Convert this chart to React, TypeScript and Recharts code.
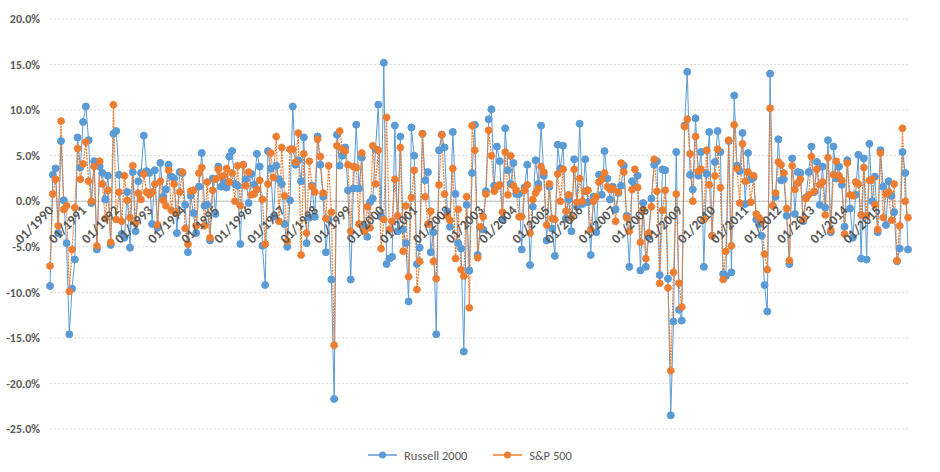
import React from 'react';
import { LineChart, Line, XAxis, YAxis, CartesianGrid, ReferenceLine, Legend } from 'recharts';

// Monthly log returns (%), Jan 1990 – Dec 2015
const years = [
  1990, 1991, 1992, 1993, 1994, 1995, 1996, 1997, 1998, 1999, 2000, 2001, 2002,
  2003, 2004, 2005, 2006, 2007, 2008, 2009, 2010, 2011, 2012, 2013, 2014, 2015,
];
const monthNames = ['01', '02', '03', '04', '05', '06', '07', '08', '09', '10', '11', '12'];

const russell2000 = [
  -9.3, 2.9, 3.6, -3.5, 6.6, 0.1, -4.6, -14.6, -9.6, -6.4, 7.0, 3.7,
  8.7, 10.4, 6.7, -0.2, 4.4, -5.3, 3.8, 3.1, 0.2, 2.8, -4.8, 7.4,
  7.7, 2.9, -3.6, -4.0, 1.0, -5.1, 3.2, -3.3, 2.2, 3.1, 7.2, 3.3,
  3.1, -2.5, 3.4, -2.9, 4.2, 0.5, 1.3, 4.0, 2.7, 2.5, -3.5, 3.2,
  3.1, -0.4, -5.6, 0.6, -1.3, -3.5, 1.6, 5.3, -0.5, -0.4, -4.3, 2.5,
  -1.4, 3.8, 1.6, 2.1, 1.5, 4.9, 5.5, 1.9, 1.7, -4.7, 4.0, 2.4,
  -0.2, 3.0, 1.8, 5.2, 3.8, -4.9, -9.2, 5.5, 3.6, -1.7, 3.9, 2.4,
  1.9, -2.5, -5.0, 0.1, 10.4, 4.0, 4.5, 2.2, 7.0, -4.6, -1.8, 1.7,
  -1.7, 7.1, 4.0, 0.5, -5.6, -2.0, -8.6, -21.7, 7.3, 3.9, 5.0, 5.9,
  1.2, -8.6, 1.4, 8.4, 1.4, 4.8, -2.8, -3.9, -0.1, 0.3, 5.7, 10.6,
  -1.7, 15.2, -6.9, -6.3, -6.1, 8.3, -3.3, 7.1, -3.1, -4.6, -11.0, 8.1,
  5.0, -6.9, -5.1, 7.4, 2.3, 3.2, -5.6, -3.4, -14.6, 5.6, 7.3, 5.9,
  -1.1, -2.8, 7.6, 0.8, -4.6, -5.2, -16.5, -0.4, -7.6, 3.1, 8.4, -5.9,
  -2.9, -3.1, 1.1, 9.0, 10.1, 1.7, 6.0, 4.4, -2.0, 8.0, 3.4, 1.9,
  4.2, 0.8, 0.8, -5.3, 1.5, 4.0, -7.0, -0.6, 4.5, 1.9, 8.3, 2.8,
  -4.3, 1.6, -3.0, -6.0, 6.2, 3.6, 6.1, -1.9, 0.2, -3.3, 4.6, -0.6,
  8.5, -0.3, 4.6, -0.1, -5.9, 0.5, -3.4, 2.9, 0.7, 5.5, 2.5, 0.2,
  1.6, -0.9, 0.9, 1.7, 3.9, -1.6, -7.2, 2.2, 1.6, 2.8, -7.6, -0.2,
  -7.2, -3.9, 0.3, 4.0, 4.4, -8.1, 3.5, 3.4, -8.5, -23.5, -13.2, 5.4,
  -11.9, -13.1, 8.3, 14.2, 2.9, 1.3, 9.1, 2.8, 5.4, -7.2, 3.0, 7.6,
  -3.8, 4.3, 7.7, 5.4, -8.0, -8.2, 6.6, -7.8, 11.6, 3.9, 3.3, 7.5,
  -0.3, 5.3, 2.4, 2.6, -2.0, -2.5, -3.8, -9.2, -12.1, 14.0, -0.5, 0.5,
  6.8, 2.3, 2.4, -1.6, -6.9, 4.7, -1.4, 3.2, 3.1, -2.2, 0.4, 3.2,
  6.0, 1.0, 4.3, -0.4, 3.8, -0.7, 6.7, -3.4, 6.0, 2.5, 3.8, 1.8,
  -2.8, 4.5, -0.8, -4.0, 0.7, 5.1, -6.3, 4.7, -6.4, 6.3, 0.0, 2.7,
  -3.4, 5.6, 1.6, -2.6, 2.2, 0.6, -1.2, -6.6, -5.2, 5.4, 3.1, -5.3,
];

const sp500 = [
  -7.1, 0.8, 2.4, -2.7, 8.8, -0.9, -0.5, -9.9, -5.3, -0.7, 5.8, 2.4,
  4.1, 6.5, 2.2, 0.0, 3.8, -4.9, 4.4, 1.9, -1.9, 1.2, -4.5, 10.6,
  -2.0, 1.0, -2.2, 2.8, 0.1, -1.8, 3.9, -2.4, 0.9, 0.2, 3.0, 1.0,
  0.7, 1.0, 1.9, -2.6, 2.2, 0.1, -0.5, 3.4, -1.0, 1.9, -1.3, 1.0,
  3.2, -3.0, -4.7, 1.1, 1.2, -2.7, 3.1, 3.7, -2.7, 2.1, -4.0, 1.2,
  2.4, 3.5, 2.7, 2.8, 3.6, 2.1, 3.1, 0.0, 3.9, -0.5, 4.0, 1.7,
  3.2, 0.7, 0.8, 1.3, 2.3, 0.2, -4.7, 1.9, 5.3, 2.6, 7.1, -2.2,
  5.9, 0.6, -4.4, 5.7, 5.7, 4.3, 7.5, -5.9, 5.2, -3.5, 4.4, 1.6,
  1.0, 6.8, 4.9, 0.9, -1.9, 3.9, -1.2, -15.8, 6.1, 7.7, 5.7, 5.5,
  4.0, -3.3, 3.8, 3.7, -2.5, 5.3, -3.3, -0.6, -2.9, 6.1, 1.9, 5.6,
  -5.2, -2.0, 9.2, -3.1, -2.2, 2.4, -1.6, 5.9, -5.5, -0.5, -8.3, 0.4,
  3.4, -9.7, -6.6, 7.4, 0.5, -2.5, -1.1, -6.6, -8.5, 1.8, 7.3, 0.8,
  -1.6, -2.1, 3.6, -6.3, -0.9, -7.5, -8.2, 0.5, -11.7, 8.3, 5.6, -6.2,
  -2.8, -1.7, 0.8, 7.8, 5.0, 1.1, 1.6, 1.8, -1.2, 5.4, 0.7, 5.0,
  1.7, 1.2, -1.7, -1.7, 1.2, 1.8, -3.5, 0.2, 0.9, 1.4, 3.8, 3.2,
  -2.6, 1.9, -1.9, -2.0, 3.0, 0.0, 3.5, -1.1, 0.7, -1.8, 3.5, -0.1,
  2.5, 0.0, 1.1, 1.2, -3.1, 0.0, 0.5, 2.1, 2.4, 3.1, 1.6, 1.3,
  1.4, -2.2, 1.0, 4.2, 3.2, -1.8, -3.3, 1.3, 3.5, 1.5, -4.5, -0.9,
  -6.3, -3.5, -0.6, 4.6, 1.1, -9.0, -1.0, 1.2, -9.5, -18.6, -7.8, 0.8,
  -9.0, -11.6, 8.2, 9.0, 5.2, 0.0, 7.1, 3.3, 3.5, -2.0, 5.6, 1.8,
  -3.8, 2.8, 5.7, 1.5, -8.6, -5.5, 6.7, -4.9, 8.4, 3.6, -0.2, 6.3,
  2.2, 3.2, -0.1, 2.8, -1.4, -1.8, -2.2, -5.8, -7.5, 10.2, -0.5, 0.9,
  4.3, 4.0, 3.1, -0.8, -6.5, 3.9, 1.3, 2.0, 2.4, -2.0, 0.3, 0.7,
  4.9, 1.1, 3.5, 1.8, 2.1, -1.5, 4.8, -3.2, 2.9, 4.4, 2.8, 2.3,
  -3.6, 4.2, 0.7, 0.6, 2.1, 1.9, -1.5, 3.7, -1.6, 2.3, 2.4, -0.4,
  -3.1, 5.3, -1.8, 0.8, 1.0, -2.1, 1.9, -6.5, -2.7, 8.0, 0.0, -1.8,
];

const yTicks = [-25, -20, -15, -10, -5, 0, 5, 10, 15, 20];

const months = years.flatMap((y) => monthNames.map((m) => `${m}/${y}`));
const data = months.map((month, i) => ({
  month,
  russell: russell2000[i],
  sp: sp500[i],
}));

const W = 940;
const H = 472;
const margin = { top: 19, right: 32, bottom: 22, left: 0 };
const legendH = 20;
const xAxisH = 1;
const plotH = H - margin.top - margin.bottom - legendH - xAxisH;
const yMin = yTicks[0];
const yMax = yTicks[yTicks.length - 1];
// category labels hang just under the 0% line (horizontal axis crosses at zero)
const zeroY = margin.top + (plotH * yMax) / (yMax - yMin);

const FONT = 'Calibri, Carlito, Lato, "Open Sans", sans-serif';
const BLUE = '#5B9BD5';
const ORANGE = '#ED7D31';

const MonthTick = (props: any) => {
  const { x, payload } = props;
  return (
    <text
      transform={`translate(${x + 4},${zeroY + 10}) rotate(-45)`}
      textAnchor="end"
      fontSize={13.5}
      fontWeight={700}
      fontFamily={FONT}
      fill="#595959"
    >
      {payload.value}
    </text>
  );
};

const LegendContent = (props: any) => {
  const items = props.payload || [];
  return (
    <div
      style={{
        display: 'flex',
        justifyContent: 'center',
        gap: 26,
        fontFamily: FONT,
        fontSize: 12.5,
        color: '#595959',
        height: legendH,
        alignItems: 'center',
      }}
    >
      {items.map((it: any) => (
        <span key={it.value} style={{ display: 'flex', alignItems: 'center', gap: 7 }}>
          <svg width={29} height={10}>
            <line x1={0} y1={5} x2={29} y2={5} stroke={it.color} strokeWidth={1.5} />
            <circle cx={14.5} cy={5} r={3.5} fill={it.color} />
          </svg>
          {it.value}
        </span>
      ))}
    </div>
  );
};

export default function App() {
  return (
    <div style={{ position: 'absolute', left: 0, top: 0 }}>
      <LineChart width={W} height={H} data={data} margin={margin}>
        <CartesianGrid vertical={false} stroke="#D9D9D9" strokeDasharray="2 2" />
        <ReferenceLine y={0} stroke="#BFBFBF" />
        <XAxis
          dataKey="month"
          interval={11}
          height={xAxisH}
          axisLine={false}
          tickLine={false}
          tick={<MonthTick />}
        />
        <YAxis
          width={50}
          domain={[yMin, yMax]}
          ticks={yTicks}
          tickFormatter={(v: number) => `${v.toFixed(1)}%`}
          axisLine={false}
          tickLine={false}
          tickMargin={4}
          tick={{ fontSize: 12, fontFamily: FONT, fill: '#595959', fontWeight: 700 }}
        />
        <Legend
          verticalAlign="bottom"
          height={legendH}
          wrapperStyle={{ bottom: 7, left: 0, width: W }}
          content={<LegendContent />}
        />
        <Line
          dataKey="russell"
          name="Russell 2000"
          stroke={BLUE}
          strokeWidth={1}
          dot={{ r: 3.5, fill: BLUE, stroke: BLUE, strokeWidth: 1 }}
          isAnimationActive={false}
        />
        <Line
          dataKey="sp"
          name="S&P 500"
          stroke={ORANGE}
          strokeWidth={1.2}
          strokeDasharray="2 1"
          dot={{ r: 3.5, fill: ORANGE, stroke: ORANGE, strokeWidth: 1 }}
          isAnimationActive={false}
        />
      </LineChart>
    </div>
  );
}
